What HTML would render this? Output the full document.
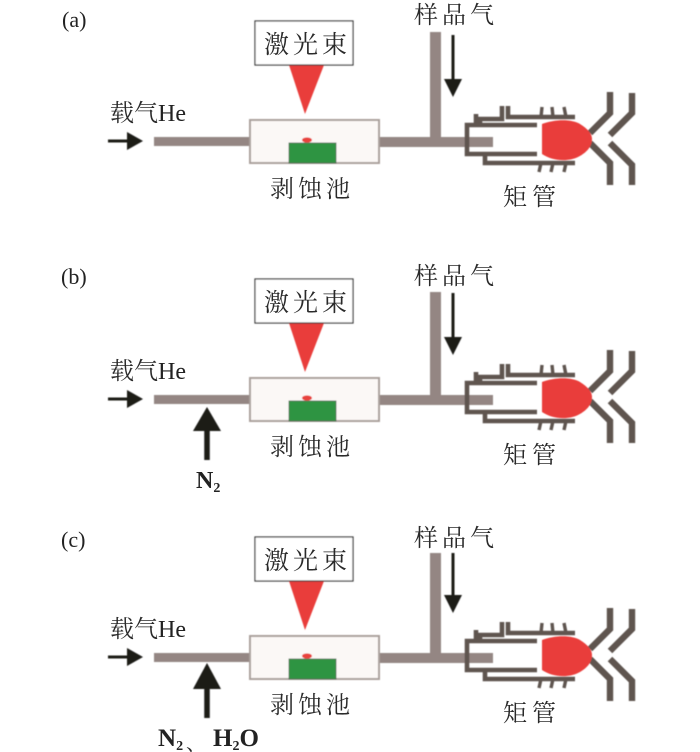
<!DOCTYPE html>
<html><head><meta charset="utf-8">
<style>
html,body{margin:0;padding:0;background:#fff;width:700px;height:752px;overflow:hidden}
svg{display:block}
.cn{font-family:"Liberation Serif","Noto Serif CJK SC",serif;fill:#2a2a2a}
.en{font-family:"Liberation Serif",serif;fill:#222}
.b{font-family:"Liberation Serif",serif;font-weight:bold;fill:#222}
</style></head><body>
<svg width="700" height="752" viewBox="0 0 700 752" xmlns="http://www.w3.org/2000/svg">
<defs>
<filter id="s" x="-5%" y="-5%" width="110%" height="110%"><feGaussianBlur stdDeviation="0.45"/></filter>
</defs>
<rect width="700" height="752" fill="#fff"/>

<g filter="url(#s)">
<!-- panel a -->
<g>
  <rect x="430" y="32" width="11" height="110" fill="#948683"/>
  <rect x="379" y="137" width="114" height="10" fill="#948683"/>
  <rect x="154" y="137" width="96" height="9" fill="#948683"/>
  <rect x="250" y="120" width="129" height="43" fill="#fbf8f6" stroke="#aaa09c" stroke-width="2"/>
  <rect x="289" y="143" width="47" height="20" fill="#2f9442" stroke="#4b6a50" stroke-width="0.8"/>
  <ellipse cx="307" cy="140" rx="5" ry="2.6" fill="#e8423c"/>
  <polygon points="289,65 324,65 305,114" fill="#e93d3a"/>
  <rect x="255" y="21" width="98" height="44" fill="#fff" stroke="#333" stroke-width="1.2"/>
  <path d="M108 141H130" stroke="#1a1a18" stroke-width="3" fill="none"/>
  <polygon points="127,132 143,141 127,150" fill="#1a1a18"/>
  <path d="M453 35V80" stroke="#1a1a18" stroke-width="3" fill="none"/>
  <polygon points="444,79 462,79 453,97" fill="#1a1a18"/>
  <g fill="none" stroke="#5f5550" stroke-width="4.6">
    <path d="M537 125H467V154H537"/>
    <path d="M476 125V114"/>
    <path d="M480 125V119H502V106"/>
    <path d="M508 106V117H575"/>
    <path d="M485 154V163H575"/>
    <g stroke-width="3.4">
      <path d="M541 117L542 107M553 117L552 107M566 117L564 107"/>
      <path d="M541 163L539 172M553 163L551 172M566 163L564 172"/>
    </g>
    <g stroke-width="6.4">
      <path d="M590 133L610 113V92"/>
      <path d="M590 143L610 163V185"/>
      <path d="M610 135L632 113V93"/>
      <path d="M610 143L632 165V185"/>
    </g>
  </g>
  <path d="M542 124C555 119 572 119 580 124C588 129 592 134 592 139C592 147 586 153 578 157C568 162 552 161 542 154Z" fill="#e93d3a"/>
</g>

<!-- panel b -->
<g transform="translate(0,258)">
  <rect x="430" y="34" width="11" height="108" fill="#948683"/>
  <rect x="379" y="137" width="114" height="10" fill="#948683"/>
  <rect x="154" y="137" width="96" height="9" fill="#948683"/>
  <rect x="250" y="120" width="129" height="43" fill="#fbf8f6" stroke="#aaa09c" stroke-width="2"/>
  <rect x="289" y="143" width="47" height="20" fill="#2f9442" stroke="#4b6a50" stroke-width="0.8"/>
  <ellipse cx="307" cy="140" rx="5" ry="2.6" fill="#e8423c"/>
  <polygon points="289,65 324,65 305,114" fill="#e93d3a"/>
  <rect x="255" y="21" width="98" height="44" fill="#fff" stroke="#333" stroke-width="1.2"/>
  <path d="M108 141H130" stroke="#1a1a18" stroke-width="3" fill="none"/>
  <polygon points="127,132 143,141 127,150" fill="#1a1a18"/>
  <path d="M453 35V80" stroke="#1a1a18" stroke-width="3" fill="none"/>
  <polygon points="444,79 462,79 453,97" fill="#1a1a18"/>
  <g fill="none" stroke="#5f5550" stroke-width="4.6">
    <path d="M537 125H467V154H537"/>
    <path d="M476 125V114"/>
    <path d="M480 125V119H502V106"/>
    <path d="M508 106V117H575"/>
    <path d="M485 154V163H575"/>
    <g stroke-width="3.4">
      <path d="M541 117L542 107M553 117L552 107M566 117L564 107"/>
      <path d="M541 163L539 172M553 163L551 172M566 163L564 172"/>
    </g>
    <g stroke-width="6.4">
      <path d="M590 133L610 113V92"/>
      <path d="M590 143L610 163V185"/>
      <path d="M610 135L632 113V93"/>
      <path d="M610 143L632 165V185"/>
    </g>
  </g>
  <path d="M542 124C555 119 572 119 580 124C588 129 592 134 592 139C592 147 586 153 578 157C568 162 552 161 542 154Z" fill="#e93d3a"/>
  <path d="M207 170V202" stroke="#1a1a18" stroke-width="5.5" fill="none"/>
  <polygon points="193,173 221,173 207,149" fill="#1a1a18"/>
</g>

<!-- panel c -->
<g transform="translate(0,516)">
  <rect x="430" y="37" width="11" height="105" fill="#948683"/>
  <rect x="379" y="137" width="114" height="10" fill="#948683"/>
  <rect x="154" y="137" width="96" height="9" fill="#948683"/>
  <rect x="250" y="120" width="129" height="43" fill="#fbf8f6" stroke="#aaa09c" stroke-width="2"/>
  <rect x="289" y="143" width="47" height="20" fill="#2f9442" stroke="#4b6a50" stroke-width="0.8"/>
  <ellipse cx="307" cy="140" rx="5" ry="2.6" fill="#e8423c"/>
  <polygon points="289,65 324,65 305,114" fill="#e93d3a"/>
  <rect x="255" y="21" width="98" height="44" fill="#fff" stroke="#333" stroke-width="1.2"/>
  <path d="M108 141H130" stroke="#1a1a18" stroke-width="3" fill="none"/>
  <polygon points="127,132 143,141 127,150" fill="#1a1a18"/>
  <path d="M453 37V80" stroke="#1a1a18" stroke-width="3" fill="none"/>
  <polygon points="444,79 462,79 453,97" fill="#1a1a18"/>
  <g fill="none" stroke="#5f5550" stroke-width="4.6">
    <path d="M537 125H467V154H537"/>
    <path d="M476 125V114"/>
    <path d="M480 125V119H502V106"/>
    <path d="M508 106V117H575"/>
    <path d="M485 154V163H575"/>
    <g stroke-width="3.4">
      <path d="M541 117L542 107M553 117L552 107M566 117L564 107"/>
      <path d="M541 163L539 172M553 163L551 172M566 163L564 172"/>
    </g>
    <g stroke-width="6.4">
      <path d="M590 133L610 113V92"/>
      <path d="M590 143L610 163V185"/>
      <path d="M610 135L632 113V93"/>
      <path d="M610 143L632 165V185"/>
    </g>
  </g>
  <path d="M542 124C555 119 572 119 580 124C588 129 592 134 592 139C592 147 586 153 578 157C568 162 552 161 542 154Z" fill="#e93d3a"/>
  <path d="M207 170V202" stroke="#1a1a18" stroke-width="5.5" fill="none"/>
  <polygon points="193,173 221,173 207,147" fill="#1a1a18"/>
</g>
</g>

<!-- labels -->
<g font-size="24">
  <text class="en" x="62" y="27" font-size="22">(a)</text>
  <text class="cn" x="414" y="23" letter-spacing="4">样品气</text>
  <text class="cn" x="264" y="53" letter-spacing="4" font-size="25">激光束</text>
  <text class="cn" x="110" y="121" font-size="24">载气<tspan class="en">He</tspan></text>
  <text class="cn" x="270" y="197" letter-spacing="4">剥蚀池</text>
  <text class="cn" x="503" y="205" letter-spacing="5">矩管</text>

  <text class="en" x="61" y="284" font-size="22">(b)</text>
  <text class="cn" x="414" y="284" letter-spacing="4">样品气</text>
  <text class="cn" x="264" y="311" letter-spacing="4" font-size="25">激光束</text>
  <text class="cn" x="110" y="379" font-size="24">载气<tspan class="en">He</tspan></text>
  <text class="cn" x="270" y="455" letter-spacing="4">剥蚀池</text>
  <text class="cn" x="503" y="463" letter-spacing="5">矩管</text>
  <text class="b" x="196" y="488" font-size="24">N<tspan font-size="14" dy="4">2</tspan></text>

  <text class="en" x="61" y="547" font-size="22">(c)</text>
  <text class="cn" x="414" y="546" letter-spacing="4">样品气</text>
  <text class="cn" x="264" y="569" letter-spacing="4" font-size="25">激光束</text>
  <text class="cn" x="110" y="637" font-size="24">载气<tspan class="en">He</tspan></text>
  <text class="cn" x="270" y="713" letter-spacing="4">剥蚀池</text>
  <text class="cn" x="503" y="721" letter-spacing="5">矩管</text>
  <text class="b" x="158" y="746" font-size="25">N<tspan font-size="14" dy="4">2</tspan></text>
  <text class="cn" x="186" y="750" font-size="20">、</text>
  <text class="b" x="213" y="746" font-size="25">H<tspan font-size="14" dy="4">2</tspan><tspan dy="-4">O</tspan></text>
</g>
</svg>
</body></html>
